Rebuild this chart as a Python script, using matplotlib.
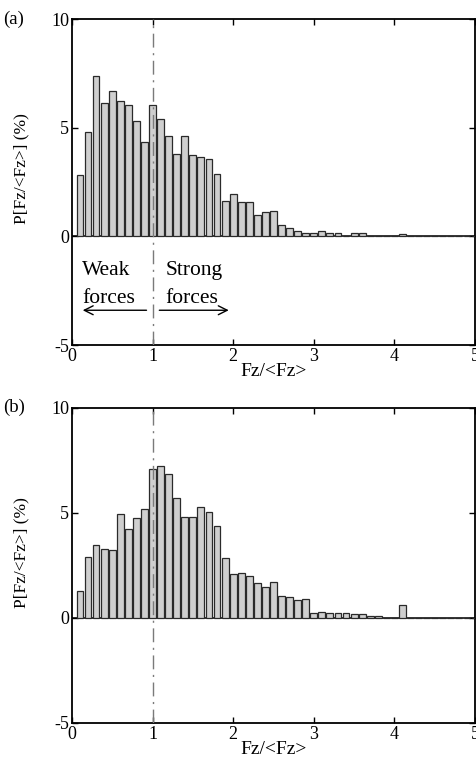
import matplotlib
matplotlib.use("Agg")
import matplotlib.pyplot as plt
import numpy as np

plt.rcParams['font.family'] = ['Liberation Serif', 'DejaVu Serif']
plt.rcParams['axes.unicode_minus'] = False

# Bin centres (Fz/<Fz>)
bins = [round(0.1 * k, 1) for k in range(1, 51)]

# Panel (a) probabilities (%)
prob_a = [2.84, 4.81, 7.36, 6.16, 6.70, 6.21, 6.07, 5.33, 4.36, 6.07,
          5.38, 4.64, 3.78, 4.64, 3.73, 3.67, 3.55, 2.89, 1.64, 1.97,
          1.58, 1.58, 0.98, 1.10, 1.17, 0.52, 0.38, 0.25, 0.14, 0.14,
          0.25, 0.14, 0.14, 0.04, 0.14, 0.14, 0.04, 0.0, 0.0, 0.0,
          0.10, 0.0, 0.0, 0.0, 0.0, 0.0, 0.0, 0.0, 0.0, 0.0]

# Panel (b) probabilities (%)
prob_b = [1.27, 2.91, 3.47, 3.29, 3.23, 4.96, 4.23, 4.75, 5.17, 7.07,
          7.25, 6.84, 5.69, 4.82, 4.80, 5.26, 5.04, 4.36, 2.87, 2.07,
          2.13, 2.00, 1.65, 1.49, 1.73, 1.03, 0.97, 0.86, 0.91, 0.22,
          0.27, 0.22, 0.22, 0.22, 0.17, 0.17, 0.11, 0.11, 0.0, 0.0,
          0.60, 0.0, 0.0, 0.0, 0.0, 0.0, 0.0, 0.0, 0.0, 0.0]

xticks = [0, 1, 2, 3, 4, 5]
yticks = [-5, 0, 5, 10]

fig = plt.figure(figsize=(4.76, 7.65), dpi=100)
ax_a = fig.add_axes([0.151, 0.549, 0.847, 0.426])
ax_b = fig.add_axes([0.151, 0.055, 0.847, 0.412])

for ax, probs, tag in [(ax_a, prob_a, '(a)'), (ax_b, prob_b, '(b)')]:
    ax.axhline(0, color='black', lw=1.1, zorder=2)
    ax.bar(bins, probs, width=0.085, color='#cfcfcf', edgecolor='#2a2a2a',
           linewidth=0.9, zorder=3)
    ax.axvline(1, color='#7a7a7a', lw=1.0, linestyle=(0, (10, 4, 1.5, 4)), zorder=4)
    ax.set_xlim(0, 5)
    ax.set_ylim(-5, 10)
    ax.set_xticks(xticks)
    ax.set_yticks(yticks)
    ax.tick_params(direction='in', top=True, right=True, labelsize=13,
                   length=4, width=1, pad=2)
    for s in ax.spines.values():
        s.set_linewidth(1.3)
    ax.set_xlabel('Fz/<Fz>', fontsize=14, labelpad=-1)
    ax.set_ylabel('P[Fz/<Fz>] (%)', fontsize=12.5)
    ax.yaxis.set_label_coords(-0.105, 0.54)
    ax.text(-0.17, 1.0, tag, transform=ax.transAxes, fontsize=13.5,
            ha='left', va='center')

ax_a.text(0.13, -1.55, 'Weak', fontsize=15.5, ha='left', va='center')
ax_a.text(0.13, -2.85, 'forces', fontsize=15.5, ha='left', va='center')
ax_a.text(1.16, -1.55, 'Strong', fontsize=15.5, ha='left', va='center')
ax_a.text(1.16, -2.85, 'forces', fontsize=15.5, ha='left', va='center')
ax_a.annotate('', xy=(0.1, -3.4), xytext=(0.96, -3.4),
              arrowprops=dict(arrowstyle='->', lw=1.0, color='black',
                              mutation_scale=16))
ax_a.annotate('', xy=(1.98, -3.4), xytext=(1.05, -3.4),
              arrowprops=dict(arrowstyle='->', lw=1.0, color='black',
                              mutation_scale=16))

fig.savefig('out.png', dpi=100)
